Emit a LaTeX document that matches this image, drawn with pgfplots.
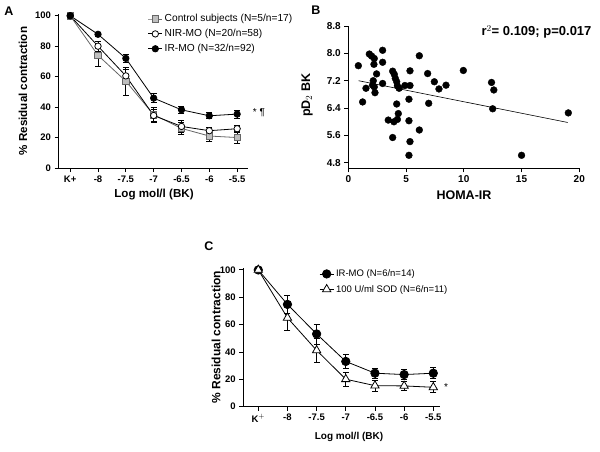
\documentclass[border=0pt]{standalone}
\usepackage{fontspec}
\setmainfont{Liberation Sans}
\usepackage{pgfplots}
\pgfplotsset{compat=1.18}

\pgfplotsset{
  panel/.style={
    scale only axis, axis lines=left, axis line style={-, line width=0.9pt},
    tick align=outside, major tick length=4pt,
    tick style={line width=0.9pt, black},
    tick label style={font=\bfseries\fontsize{9.5}{10}\selectfont},
    /pgf/number format/assume math mode=true,
    clip=false,
    error bars/error bar style={line width=0.7pt, black, solid},
    error bars/error mark options={rotate=90, mark size=3pt, line width=0.7pt, black},
    legend cell align=left,
    legend image code/.code={
      \draw[mark repeat=2, mark phase=2, #1] plot coordinates {(0pt,0pt) (7pt,0pt) (14pt,0pt)};},
  },
}

\begin{document}
\begin{tikzpicture}
\path[use as bounding box] (0,0) rectangle (600pt,-451pt);

% ---- panel A
\begin{axis}[panel, at={(58.5pt,-168pt)}, anchor=south west,
  width=189.5pt, height=153.8pt,
  xmin=-0.42, xmax=6.39, ymin=0, ymax=101,
  xtick={0,...,6}, xticklabels={K+,-8,-7.5,-7,-6.5,-6,-5.5},
  ytick={0,20,...,100},
  legend style={at={(0.455,1.025)}, anchor=north west, draw=none, fill=none,
    font=\fontsize{10.2}{12}\selectfont, row sep=2pt}]
\addplot[black!60, line width=0.8pt, mark=square*, mark size=3.2pt,
  mark options={fill=black!25, draw=black!60},
  error bars/.cd, y dir=both, y explicit] coordinates {
  (0,100) +- (0,0) (1,74) +- (0,7) (2,57) +- (0,9) (3,35) +- (0,5)
  (4,26) +- (0,4) (5,21) +- (0,3.5) (6,20) +- (0,4)};
\addlegendentry{Control subjects (N=5/n=17)}
\addplot[black, line width=0.8pt, mark=*, mark size=3.2pt,
  mark options={fill=white, draw=black},
  error bars/.cd, y dir=both, y explicit] coordinates {
  (0,100) +- (0,0) (1,80) +- (0,3.5) (2,60.5) +- (0,4) (3,34.5) +- (0,4)
  (4,27.3) +- (0,4) (5,24.5) +- (0,2) (6,25.8) +- (0,2.5)};
\addlegendentry{NIR-MO (N=20/n=58)}
\addplot[black, line width=0.8pt, mark=*, mark size=3.2pt,
  error bars/.cd, y dir=both, y explicit] coordinates {
  (0,100) +- (0,0) (1,87.8) +- (0,1.5) (2,72) +- (0,2.5) (3,45.9) +- (0,3)
  (4,38.2) +- (0,2) (5,34.3) +- (0,2) (6,35.4) +- (0,2.5)};
\addlegendentry{IR-MO (N=32/n=92)}
\end{axis}

% ---- panel B
\begin{axis}[panel, at={(348.3pt,-168.3pt)}, anchor=south west,
  width=231pt, height=142.3pt,
  xmin=0, xmax=20, ymin=4.64, ymax=8.8,
  xtick={0,5,10,15,20}, ytick={4.8,5.6,6.4,7.2,8.0,8.8},
  tick label style={font=\bfseries\fontsize{10}{10}\selectfont},
  yticklabel style={/pgf/number format/.cd, fixed, fixed zerofill, precision=1}]
\addplot[only marks, mark=*, mark size=3.4pt, black] table {
x y
0.87 7.64
1.24 6.58
1.53 6.98
1.82 7.98
2.02 7.92
2.25 7.85
2.22 7.68
2.45 7.40
2.16 7.20
2.10 7.07
2.25 7.02
2.31 6.85
2.97 8.09
2.97 7.74
2.97 7.12
3.84 7.48
3.98 7.39
4.07 7.27
4.19 7.17
4.25 7.05
4.40 6.98
3.46 6.05
3.95 6.00
4.25 6.07
4.33 6.24
4.19 6.52
3.84 5.54
4.90 7.06
5.34 7.06
5.34 7.49
5.25 6.66
5.25 6.03
5.34 5.42
5.25 5.02
6.15 7.93
6.15 5.76
6.87 7.41
6.96 6.54
7.45 7.17
7.85 6.96
8.46 7.07
9.96 7.50
12.40 7.15
12.60 6.93
12.50 6.38
15.00 5.02
19.05 6.26
};
\addplot[black, line width=0.6pt] coordinates {(0.9,7.2) (19,5.98)};
\end{axis}

% ---- panel C
\begin{axis}[panel, at={(243.3pt,-406.7pt)}, anchor=south west,
  width=196.7pt, height=138.4pt,
  xmin=-0.514, xmax=6.23, ymin=0, ymax=101.2,
  xtick={0,...,6}, xticklabels={K$^+$,-8,-7.5,-7,-6.5,-6,-5.5},
  ytick={0,20,...,100},
  legend style={at={(0.37,1.02)}, anchor=north west, draw=none, fill=none,
    font=\fontsize{9.5}{11}\selectfont, row sep=3pt}]
\addplot[black, line width=0.8pt, mark=*, mark size=4.2pt,
  error bars/.cd, y dir=both, y explicit] coordinates {
  (0,100) +- (0,0) (1,74.8) +- (0,6.8) (2,53.2) +- (0,7.3) (3,33.1) +- (0,5)
  (4,24.5) +- (0,3.5) (5,23.5) +- (0,3.5) (6,24.5) +- (0,4)};
\addlegendentry{IR-MO (N=6/n=14)}
\addplot[black, line width=0.8pt, mark=triangle*, mark size=4.8pt,
  mark options={fill=white, draw=black},
  error bars/.cd, y dir=both, y explicit] coordinates {
  (0,100) +- (0,0) (1,65) +- (0,9.5) (2,41.2) +- (0,9) (3,20.1) +- (0,5)
  (4,15.4) +- (0,4) (5,15.2) +- (0,3) (6,14.2) +- (0,4)};
\addlegendentry{100 U/ml SOD (N=6/n=11)}
\end{axis}

% ---- texts
\begin{scope}[every node/.style={font=\bfseries}]
\node[font=\bfseries\fontsize{12.5}{12}\selectfont] at (9pt,-11pt) {A};
\node[font=\bfseries\fontsize{12.5}{12}\selectfont] at (316pt,-10pt) {B};
\node[font=\bfseries\fontsize{12.5}{12}\selectfont] at (209pt,-246pt) {C};
\node[rotate=90, font=\bfseries\fontsize{11.6}{12}\selectfont] at (23pt,-91pt) {\% Residual contraction};
\node[font=\bfseries\fontsize{11.6}{12}\selectfont] at (154pt,-195pt) {Log mol/l (BK)};
\node[rotate=90, font=\bfseries\fontsize{12.5}{12}\selectfont] at (307pt,-95pt) {pD$_2$ BK};
\node[font=\bfseries\fontsize{12.5}{12}\selectfont] at (464pt,-195pt) {HOMA-IR};
\node[font=\bfseries\fontsize{13}{13}\selectfont, anchor=east] at (595pt,-32pt) {r$^2$= 0.109; p=0.017};
\node[rotate=90, font=\bfseries\fontsize{12}{12}\selectfont] at (216pt,-337pt) {\% Residual contraction};
\node[font=\bfseries\fontsize{10}{11}\selectfont] at (349pt,-437pt) {Log mol/l (BK)};
\node[font=\fontsize{10}{10}\selectfont] at (259pt,-113pt) {* \P};
\node[font=\fontsize{10}{10}\selectfont] at (446pt,-387pt) {*};
\end{scope}
\end{tikzpicture}
\end{document}
